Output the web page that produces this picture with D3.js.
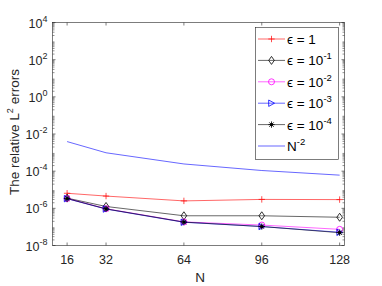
<!DOCTYPE html>
<html><head><meta charset="utf-8">
<script src="https://cdn.jsdelivr.net/npm/d3@7"></script>
<style>body{margin:0;background:#fff;} text{font-family:"Liberation Sans",Arial,sans-serif;}</style>
</head><body><svg id="c" width="382" height="286"></svg>
<script>
const N = [16, 32, 64, 96, 128];
const xTicks = [16, 32, 64, 96, 128];
const yTickExps = [4, 2, 0, -2, -4, -6, -8];
const errEps1   = [-5.19, -5.34, -5.60, -5.52, -5.53].map(e => Math.pow(10, e));
const errEps1m1 = [-5.45, -5.90, -6.40, -6.40, -6.48].map(e => Math.pow(10, e));
const errEps1m2 = [-5.47, -6.02, -6.73, -6.90, -7.13].map(e => Math.pow(10, e));
const errEps1m3 = [-5.48, -6.04, -6.75, -6.98, -7.29].map(e => Math.pow(10, e));
const errEps1m4 = [-5.47, -6.03, -6.74, -6.98, -7.31].map(e => Math.pow(10, e));
const refN2 = [0.00390625, 0.0009765625, 0.000244140625, 0.000108506944, 0.00006103515625];

const series = [
  {label:"1", sup:null, vals:errEps1, color:"#ff0000", marker:"plus"},
  {label:"10", sup:"-1", vals:errEps1m1, color:"#000000", marker:"diamond"},
  {label:"10", sup:"-2", vals:errEps1m2, color:"#ff00ff", marker:"circle"},
  {label:"10", sup:"-3", vals:errEps1m3, color:"#0000ff", marker:"triangle"},
  {label:"10", sup:"-4", vals:errEps1m4, color:"#000000", marker:"star"},
  {label:"N", sup:"-2", vals:refN2, color:"#0000ff", marker:null, ref:true}
];

const svg = d3.select("#c");
const L = 52.5, R = 344.5, T = 22.5, B = 245.5;
const x = d3.scaleLinear().domain([10, 130]).range([L, R]);
const y = d3.scaleLog().domain([1e-8, 1e4]).range([B, T]);

// axes box
const g = svg.append("g");
const font = 12.5;
// minor ticks
const minors = [];
for (let e = -8; e < 4; e++) for (let k = 2; k <= 9; k++) minors.push(k * Math.pow(10, e));
minors.forEach(v => {
  g.append("line").attr("x1", L).attr("x2", L + 2).attr("y1", y(v)).attr("y2", y(v)).attr("stroke", "#262626").attr("stroke-width", 0.5);
  g.append("line").attr("x1", R).attr("x2", R - 2).attr("y1", y(v)).attr("y2", y(v)).attr("stroke", "#262626").attr("stroke-width", 0.5);
});
yTickExps.forEach(e => {
  const v = Math.pow(10, e);
  g.append("line").attr("x1", L).attr("x2", L + 3).attr("y1", y(v)).attr("y2", y(v)).attr("stroke", "#262626").attr("stroke-width", 0.6);
  g.append("line").attr("x1", R).attr("x2", R - 3).attr("y1", y(v)).attr("y2", y(v)).attr("stroke", "#262626").attr("stroke-width", 0.6);
  const t = g.append("text").attr("x", L - 5).attr("y", y(v) + 5).attr("text-anchor", "end").attr("font-size", font).attr("fill", "#262626");
  t.append("tspan").text("10");
  t.append("tspan").attr("dy", -6).attr("font-size", 9).text(String(e));
});
xTicks.forEach(v => {
  g.append("line").attr("x1", x(v)).attr("x2", x(v)).attr("y1", B).attr("y2", B - 3).attr("stroke", "#262626").attr("stroke-width", 0.6);
  g.append("line").attr("x1", x(v)).attr("x2", x(v)).attr("y1", T).attr("y2", T + 3).attr("stroke", "#262626").attr("stroke-width", 0.6);
  g.append("text").attr("x", x(v)).attr("y", 264).attr("text-anchor", "middle").attr("font-size", font).attr("fill", "#262626").text(v);
});
g.append("rect").attr("x", L).attr("y", T).attr("width", R - L).attr("height", B - T).attr("fill", "none").attr("stroke", "#262626").attr("stroke-width", 0.6);

// labels
g.append("text").attr("x", 200).attr("y", 282).attr("text-anchor", "middle").attr("font-size", 13.5).attr("fill", "#262626").text("N");
const yl = g.append("text").attr("transform", "translate(19,132) rotate(-90)").attr("text-anchor", "middle").attr("font-size", 13.5).attr("fill", "#262626");
yl.append("tspan").text("The relative L");
yl.append("tspan").attr("dy", -6).attr("font-size", 9).text("2");
yl.append("tspan").attr("dy", 6).text(" errors");

function drawMarker(sel, type, cx, cy, color) {
  const s = 3.2;
  if (type === "plus") {
    sel.append("path").attr("d", `M${cx - s},${cy}H${cx + s}M${cx},${cy - s}V${cy + s}`).attr("stroke", color).attr("stroke-width", 0.7).attr("fill", "none");
  } else if (type === "diamond") {
    sel.append("path").attr("d", `M${cx},${cy - 4}L${cx + 2.8},${cy}L${cx},${cy + 4}L${cx - 2.8},${cy}Z`).attr("stroke", color).attr("stroke-width", 0.8).attr("fill", "none");
  } else if (type === "circle") {
    sel.append("circle").attr("cx", cx).attr("cy", cy).attr("r", 3).attr("stroke", color).attr("stroke-width", 0.8).attr("fill", "none");
  } else if (type === "triangle") {
    sel.append("path").attr("d", `M${cx - 2.8},${cy - 3.2}L${cx + 3},${cy}L${cx - 2.8},${cy + 3.2}Z`).attr("stroke", color).attr("stroke-width", 0.8).attr("fill", "none");
  } else if (type === "star") {
    let d = "";
    for (let i = 0; i < 4; i++) {
      const a = i * Math.PI / 4;
      d += `M${cx - s * Math.cos(a)},${cy - s * Math.sin(a)}L${cx + s * Math.cos(a)},${cy + s * Math.sin(a)}`;
    }
    sel.append("path").attr("d", d).attr("stroke", color).attr("stroke-width", 0.8).attr("fill", "none");
    sel.append("circle").attr("cx", cx).attr("cy", cy).attr("r", 1.6).attr("fill", color);
  }
}

const line = d3.line().x((d, i) => x(N[i])).y(d => y(d));
series.forEach(s => {
  g.append("path").datum(s.vals).attr("d", line).attr("fill", "none").attr("stroke", s.color).attr("stroke-width", 0.6);
  if (s.marker) s.vals.forEach((v, i) => drawMarker(g, s.marker, x(N[i]), y(v), s.color));
});

// legend
const lg = svg.append("g");
lg.append("rect").attr("x", 255.5).attr("y", 27.5).attr("width", 83).attr("height", 132).attr("fill", "#fff").attr("stroke", "#262626").attr("stroke-width", 0.6);
series.forEach((s, i) => {
  const ly = 39 + i * 21.4;
  lg.append("line").attr("x1", 258).attr("x2", 285).attr("y1", ly).attr("y2", ly).attr("stroke", s.color).attr("stroke-width", 0.6);
  if (s.marker) drawMarker(lg, s.marker, 271.5, ly, s.color);
  const t = lg.append("text").attr("x", 287).attr("y", ly + 5).attr("font-size", 13.5).attr("fill", "#000");
  if (s.ref) {
    t.append("tspan").text("N");
  } else {
    t.append("tspan").text("\u03F5 = " + s.label);
  }
  if (s.sup) t.append("tspan").attr("dy", -6).attr("font-size", 9.5).text(s.sup);
});
</script></body></html>
